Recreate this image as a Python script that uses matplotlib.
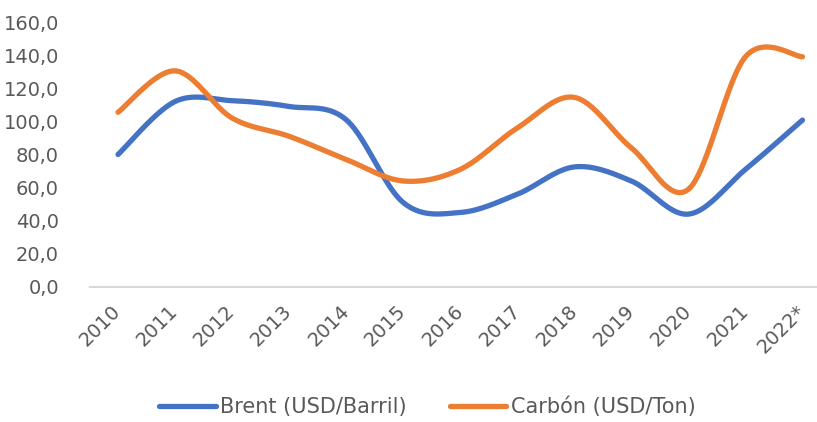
import numpy as np
import matplotlib
matplotlib.use("Agg")
import matplotlib.pyplot as plt
from matplotlib.lines import Line2D

years = ["2010", "2011", "2012", "2013", "2014", "2015", "2016",
         "2017", "2018", "2019", "2020", "2021", "2022*"]
brent = [80, 112, 112.5, 109, 101, 51, 45, 56, 72.5, 64, 44, 71, 100.8]
carbon = [105.5, 130.5, 102, 91, 77, 64, 71, 96, 114.5, 84, 59, 139, 139]
y_ticks = [0, 20, 40, 60, 80, 100, 120, 140, 160]


def smooth(x, y, n=40):
    x = np.asarray(x, float)
    y = np.asarray(y, float)
    P = np.column_stack([x, y])
    out = []
    for i in range(len(P) - 1):
        p0 = P[i - 1] if i > 0 else P[i]
        p1 = P[i]
        p2 = P[i + 1]
        p3 = P[i + 2] if i + 2 < len(P) else P[i + 1]
        c1 = p1 + (p2 - p0) / 6.0
        c2 = p2 - (p3 - p1) / 6.0
        t = np.linspace(0, 1, n)[:, None]
        seg = ((1 - t) ** 3) * p1 + 3 * ((1 - t) ** 2) * t * c1 + 3 * (1 - t) * t ** 2 * c2 + t ** 3 * p2
        out.append(seg if i == 0 else seg[1:])
    s = np.vstack(out)
    return s[:, 0], s[:, 1]


W, H = 817, 422
fig = plt.figure(figsize=(W / 100, H / 100), dpi=100)
left, right, top, bottom = 89.5, 831, 22, 287
ax = fig.add_axes([left / W, 1 - bottom / H, (right - left) / W, (bottom - top) / H])

blue = "#4472C4"
orange = "#ED7D31"
xs = np.arange(len(years))
bx, by = smooth(xs, brent)
cx, cy = smooth(xs, carbon)
ax.plot(bx, by, color=blue, lw=3.8, solid_capstyle="round", zorder=3)
ax.plot(cx, cy, color=orange, lw=3.8, solid_capstyle="round", zorder=3)

ax.set_xlim(-0.5, len(years) - 0.5)
ax.set_ylim(0, 160)
ax.set_yticks(y_ticks)
ax.set_yticklabels([f"{v:.1f}".replace(".", ",") for v in y_ticks])
ax.set_xticks(xs)
ax.set_xticklabels(years, rotation=45, ha="right", va="center", rotation_mode="anchor")

txt = "#595959"
ax.tick_params(axis="y", length=0, labelsize=14, colors=txt, pad=22)
ax.tick_params(axis="x", length=0, labelsize=14, colors=txt, pad=15)
for s in ["top", "right", "left"]:
    ax.spines[s].set_visible(False)
ax.spines["bottom"].set_color("#D9D9D9")
ax.spines["bottom"].set_linewidth(1.5)

handles = [Line2D([], [], color=blue, lw=3.8, solid_capstyle="round"),
           Line2D([], [], color=orange, lw=3.8, solid_capstyle="round")]
fig.legend(handles, ["Brent (USD/Barril)", "Carbón (USD/Ton)"],
           loc="center", bbox_to_anchor=(0.523, 1 - 407 / H), ncol=2,
           frameon=False, fontsize=15, handlelength=2.7, handletextpad=0.2,
           columnspacing=2.1, labelcolor=txt)

fig.savefig("out.png", dpi=100)
